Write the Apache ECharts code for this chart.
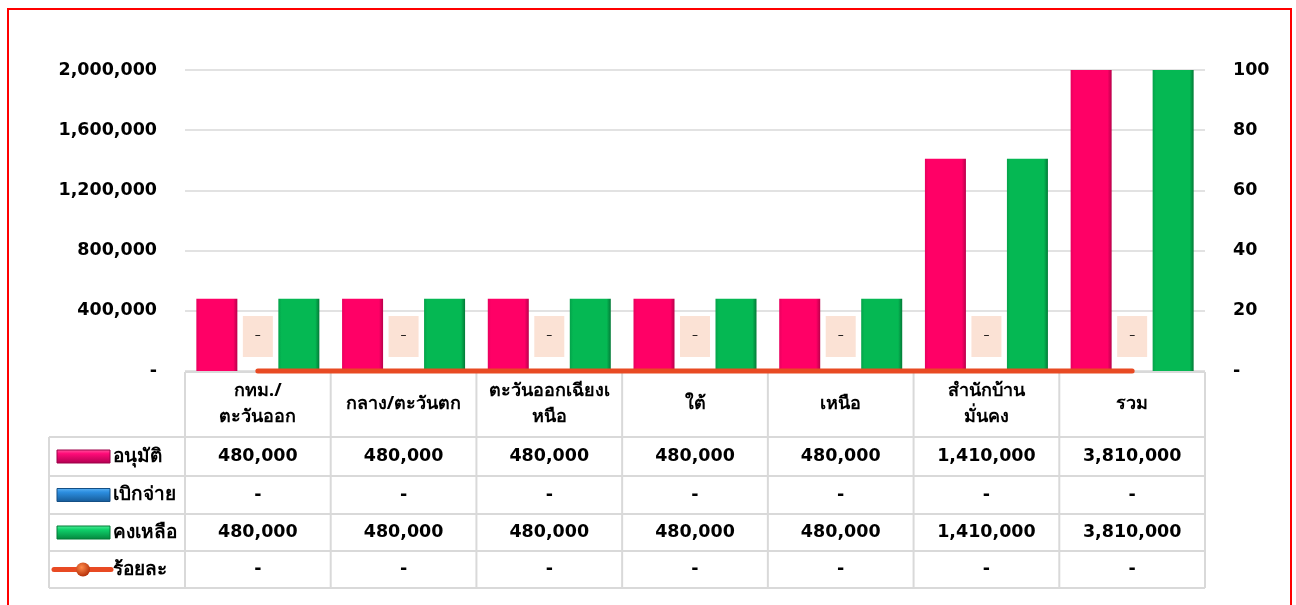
<!DOCTYPE html>
<html><head><meta charset="utf-8">
<script src="https://cdn.jsdelivr.net/npm/echarts@6/dist/echarts.min.js"></script>
<style>html,body{margin:0;padding:0;background:#fff}#c{width:1296px;height:605px}</style>
</head><body><div id="c"></div>
<script>
// ---- data ----
const categories = ['กทม./\nตะวันออก', 'กลาง/ตะวันตก', 'ตะวันออกเฉียงเ\nหนือ', 'ใต้', 'เหนือ', 'สำนักบ้าน\nมั่นคง', 'รวม'];
const seriesNames = ['อนุมัติ', 'เบิกจ่าย', 'คงเหลือ', 'ร้อยละ'];
const approved  = [480000, 480000, 480000, 480000, 480000, 1410000, 3810000];
const disbursed = [0, 0, 0, 0, 0, 0, 0];
const remaining = [480000, 480000, 480000, 480000, 480000, 1410000, 3810000];
const percent   = [0, 0, 0, 0, 0, 0, 0];
const leftAxis  = { min: 0, max: 2000000, interval: 400000 };
const rightAxis = { min: 0, max: 100, interval: 20 };

const NUMFONT = "'DejaVu Sans', sans-serif";
const THFONT = "'Noto Sans', 'DejaVu Sans', sans-serif";
const fmt = v => (v === 0 ? '-' : Number(v).toLocaleString('en-US'));

function barGrad(c1, c2, c3) {
  return new echarts.graphic.LinearGradient(0, 0, 1, 0, [
    { offset: 0, color: c1 }, { offset: 0.08, color: c2 },
    { offset: 0.9, color: c2 }, { offset: 1, color: c3 }
  ]);
}
const pink = barGrad('#e8005e', '#ff0066', '#b8004a');
const blue = barGrad('#1b6fb8', '#2e8de0', '#165a96');
const green = barGrad('#04a34a', '#05b853', '#037a37');

const chart = echarts.init(document.getElementById('c'), null, { renderer: 'canvas' });
const GRID = { left: 185, right: 91, top: 70, bottom: 234 };

chart.setOption({
  animation: false,
  grid: GRID,
  xAxis: {
    type: 'category', data: categories,
    axisLine: { show: false }, axisTick: { show: false },
    axisLabel: { interval: 0, margin: 33, verticalAlign: 'middle', lineHeight: 26,
      fontSize: 18, fontWeight: 'bold', color: '#000', fontFamily: THFONT }
  },
  yAxis: [
    { type: 'value', min: leftAxis.min, max: leftAxis.max, interval: leftAxis.interval,
      axisLine: { show: false }, axisTick: { show: false },
      splitLine: { lineStyle: { color: '#d9d9d9', width: 1.5 } },
      axisLabel: { margin: 28, fontSize: 17.5, fontWeight: 'bold', color: '#000', formatter: fmt, fontFamily: NUMFONT } },
    { type: 'value', min: rightAxis.min, max: rightAxis.max, interval: rightAxis.interval,
      axisLine: { show: false }, axisTick: { show: false }, splitLine: { show: false },
      axisLabel: { margin: 28, fontSize: 17.5, fontWeight: 'bold', color: '#000', formatter: fmt, fontFamily: NUMFONT } }
  ],
  series: [
    { name: seriesNames[0], type: 'bar', data: approved, barWidth: 41, barGap: '0%',
      itemStyle: { color: pink, shadowBlur: 3, shadowColor: 'rgba(0,0,0,0.35)', shadowOffsetX: 1, shadowOffsetY: 1 } },
    { name: seriesNames[1], type: 'bar', data: disbursed, barWidth: 41, barGap: '0%',
      itemStyle: { color: blue },
      label: { show: true, position: 'top', distance: 14, formatter: p => (p.value === 0 ? '–' : fmt(p.value)),
        backgroundColor: '#fbe2d5', padding: [13, 12, 14, 12], fontSize: 12, lineHeight: 14, color: '#000', fontFamily: NUMFONT } },
    { name: seriesNames[2], type: 'bar', data: remaining, barWidth: 41, barGap: '0%',
      itemStyle: { color: green, shadowBlur: 3, shadowColor: 'rgba(0,0,0,0.35)', shadowOffsetX: 1, shadowOffsetY: 1 } },
    { name: seriesNames[3], type: 'line', yAxisIndex: 1, data: percent, showSymbol: false, clip: false, z: 10,
      lineStyle: { color: '#e84a23', width: 5, cap: 'round' } }
  ]
});

// ---- data table drawn from the same arrays ----
const plotLeft = GRID.left, plotRight = 1296 - GRID.right;
const colW = (plotRight - plotLeft) / categories.length;
const headTop = 372, rowTops = [437, 476, 514, 551, 588];
const tableLeft = 49;
const lineC = '#d9d9d9';
const g = [];
function hline(x1, x2, y) { g.push({ type: 'line', shape: { x1, y1: y, x2, y2: y }, style: { stroke: lineC, lineWidth: 2 }, z: 5 }); }
function vline(x, y1, y2) { g.push({ type: 'line', shape: { x1: x, y1, x2: x, y2 }, style: { stroke: lineC, lineWidth: 2 }, z: 5 }); }
hline(plotLeft, plotRight, headTop);
rowTops.forEach(y => hline(tableLeft, plotRight, y));
for (let i = 0; i <= categories.length; i++) vline(plotLeft + i * colW, headTop, rowTops[4]);
vline(tableLeft, rowTops[0], rowTops[4]);

const rows = [approved, disbursed, remaining, percent];
rows.forEach((arr, r) => {
  const cy = (rowTops[r] + rowTops[r + 1]) / 2;
  arr.forEach((v, i) => {
    const cx = chart.convertToPixel({ xAxisIndex: 0 }, i);
    g.push({ type: 'text', x: cx, y: cy, z: 6,
      style: { text: fmt(v), fontSize: 17.5, fontWeight: 'bold', fill: '#000', align: 'center', verticalAlign: 'middle', fontFamily: NUMFONT } });
  });
  if (r < 3) {
    g.push({ type: 'rect', shape: { x: 57, y: cy - 6.5, width: 53, height: 13 }, z: 6,
      style: { fill: new echarts.graphic.LinearGradient(0, 0, 0, 1, [
        { offset: 0, color: ['#ff5aa0', '#5fb4f5', '#4ff09a'][r] }, { offset: 0.3, color: ['#ff0a78', '#2c8ee0', '#0fd06a'][r] },
        { offset: 1, color: ['#b00050', '#165a96', '#04853d'][r] }]), stroke: ['#9c0048', '#144f85', '#037a37'][r], lineWidth: 1 } });
  } else {
    g.push({ type: 'line', shape: { x1: 54, y1: cy, x2: 111, y2: cy }, z: 6, style: { stroke: '#e84a23', lineWidth: 5, lineCap: 'round' } });
    g.push({ type: 'circle', shape: { cx: 83, cy, r: 7 }, z: 7,
      style: { fill: new echarts.graphic.RadialGradient(0.4, 0.35, 0.7, [{ offset: 0, color: '#ff8a4a' }, { offset: 1, color: '#b02a05' }]) } });
  }
  g.push({ type: 'text', x: 113, y: cy, z: 6,
    style: { text: seriesNames[r], fontSize: 19, fontWeight: 'bold', fill: '#000', align: 'left', verticalAlign: 'middle', fontFamily: THFONT } });
});
// outer red frame
g.push({ type: 'rect', shape: { x: 8, y: 9, width: 1283, height: 640 }, z: 20, silent: true,
  style: { fill: 'none', stroke: '#ff0000', lineWidth: 2 } });
chart.setOption({ graphic: g });
</script></body></html>
